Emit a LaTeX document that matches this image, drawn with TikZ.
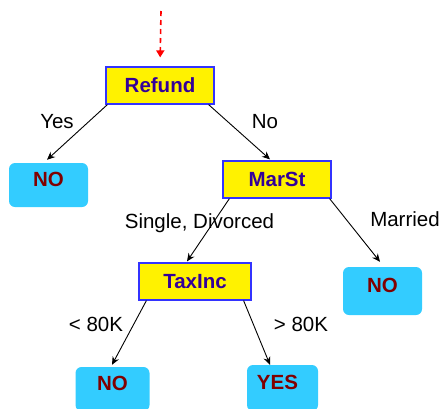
\documentclass[tikz,border=0pt]{standalone}
\usepackage{fontspec}
\setmainfont{Liberation Sans}
\usetikzlibrary{arrows.meta,calc}
\definecolor{boxblue}{HTML}{3333FF}
\definecolor{txtblue}{HTML}{330099}
\definecolor{leafcyan}{HTML}{33CCFF}
\definecolor{leafred}{HTML}{800000}
\tikzset{
  attr/.style={draw=boxblue, line width=1.2pt, fill=yellow, inner sep=0pt,
    minimum height=37pt, text height=14.7pt, text depth=0pt,
    font=\fontsize{20.5}{24}\selectfont\bfseries, text=txtblue},
  leaf/.style={fill=leafcyan, rounded corners=6pt, inner sep=0pt,
    text height=14.7pt, text depth=12pt,
    font=\fontsize{20.5}{24}\selectfont\bfseries, text=leafred},
  lbl/.style={anchor=base, inner sep=0pt, font=\fontsize{20.5}{24}\selectfont},
  edge/.style={draw=black, line width=0.9pt, -{Stealth[length=8pt,width=7pt]}},
  entry/.style={draw=red, line width=1.6pt, dash pattern=on 5pt off 4pt,
    -{Triangle[length=7pt,width=8pt]}}
}
\begin{document}
\begin{tikzpicture}[x=1pt,y=-1pt]
\useasboundingbox (0,0) rectangle (443,408);
\clip (0,0) rectangle (443,408);
% nodes
\node[attr, minimum width=108pt] (refund) at (160,85.5) {Refund};
\node[leaf, minimum width=79pt, minimum height=44pt] (noL) at (48.5,185) {NO};
\node[attr, minimum width=108pt] (marst) at (277,179.5) {MarSt};
\node[attr, minimum width=112pt] (taxinc) at (195,281.5) {TaxInc};
\node[leaf, minimum width=79pt, minimum height=48pt] (noR) at (382.5,291) {NO};
\node[leaf, minimum width=74pt, minimum height=44pt] (noB) at (112.5,389) {NO};
\node[leaf, minimum width=71pt, minimum height=46pt] (yes) at (282.5,388) {YES\kern10pt};
% entry arrow
\coordinate (start) at (161,11);
\draw[entry, shorten >=9pt] (start) -- (refund.north);
% edges
\draw[edge] ($(refund.south west)+(2,0)$) -- ($(noL.north)+(-1.5,-3)$);
\draw[edge] ($(refund.south east)+(-6,0)$) -- ($(marst.north)+(-7,-1)$);
\draw[edge] ($(marst.south west)+(7,0)$) -- ($(taxinc.north)+(-8,-1)$);
\draw[edge] ($(marst.south east)+(-2,0)$) -- ($(noR.north)+(-2.5,-5)$);
\draw[edge] ($(taxinc.south west)+(8,0)$) -- ($(noB.north)+(-0.5,-2)$);
\draw[edge] ($(taxinc.south east)+(-8,0)$) -- ($(yes.north)+(-12.5,0)$);
% labels
\node[lbl] (lyes) at (57,128) {Yes};
\node[lbl] (lno) at (265,128) {No};
\node[lbl] (lsd) at (199.5,228.3) {Single, Divorced};
\node[lbl] (lmar) at (405,226) {Married};
\node[lbl] (llt) at (96,331.7) {< 80K};
\node[lbl] (lgt) at (301,331.7) {> 80K};
\end{tikzpicture}
\end{document}
